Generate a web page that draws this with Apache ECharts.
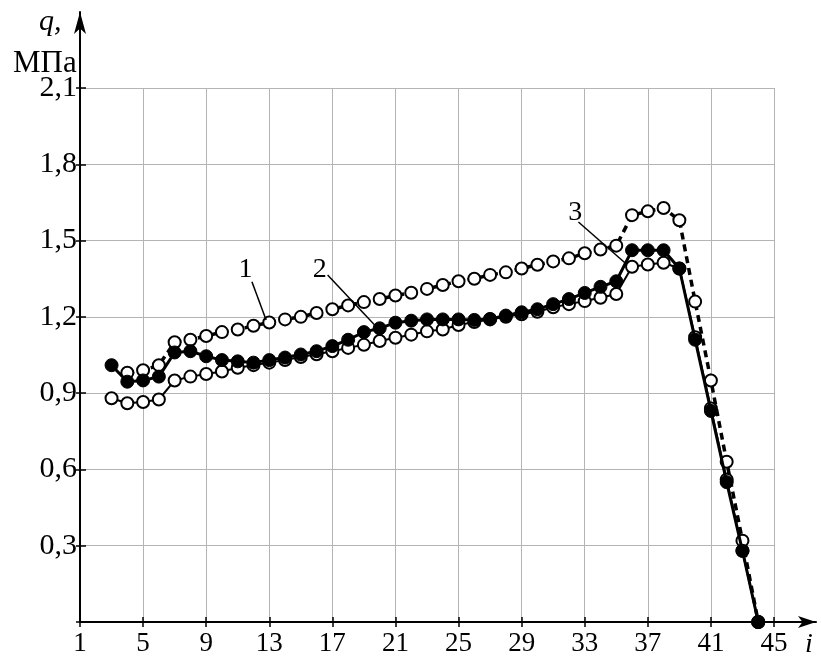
<!DOCTYPE html>
<html>
<head>
<meta charset="utf-8">
<script src="https://cdn.jsdelivr.net/npm/echarts@6/dist/echarts.min.js"></script>
<style>
html,body{margin:0;padding:0;background:#fff;}
#main{width:821px;height:658px;}
</style>
</head>
<body>
<div id="main"></div>
<script>
// categories (i)
const categories = ['1','2','3','4','5','6','7','8','9','10','11','12','13','14','15','16','17','18','19','20','21','22','23','24','25','26','27','28','29','30','31','32','33','34','35','36','37','38','39','40','41','42','43','44','45'];
// Curve 1 (dashed, open circles)
const q1 = [null,null,null,0.98,0.99,1.01,1.10,1.11,1.125,1.14,1.15,1.165,1.178,1.19,1.20,1.215,1.23,1.245,1.258,1.27,1.284,1.295,1.31,1.325,1.34,1.35,1.365,1.375,1.39,1.405,1.418,1.43,1.45,1.465,1.48,1.60,1.615,1.628,1.58,1.26,0.95,0.63,0.32,0,null];
// Curve 2 (thick solid, filled circles)
const q2 = [null,null,1.01,0.945,0.95,0.965,1.06,1.065,1.045,1.03,1.025,1.02,1.03,1.04,1.052,1.065,1.085,1.11,1.14,1.155,1.177,1.185,1.19,1.19,1.19,1.188,1.192,1.205,1.218,1.23,1.25,1.27,1.294,1.318,1.34,1.462,1.462,1.462,1.39,1.11,0.83,0.55,0.28,0,null];
// Curve 3 (thin solid, open circles)
const q3 = [null,null,0.88,0.86,0.865,0.875,0.95,0.965,0.975,0.985,1.0,1.01,1.02,1.03,1.042,1.053,1.065,1.078,1.09,1.105,1.118,1.13,1.143,1.15,1.168,1.18,1.19,1.2,1.21,1.22,1.238,1.25,1.262,1.275,1.29,1.397,1.406,1.413,1.39,1.12,0.84,0.56,0.28,0,null];
// y ticks
const yMin = 0, yMax = 2.1, yStep = 0.3;
// annotations: label text, label position (i, q), leader start and end (i, q)
const annoText = ['1','2','3'];
const annoLabelPos = [[11.5,1.384],[16.2,1.384],[32.4,1.608]];
const annoLineFrom = [[11.9,1.338],[16.7,1.365],[32.6,1.573]];
const annoLineTo = [[12.8,1.188],[19.8,1.16],[35.6,1.41]];

const FONT = 'Liberation Serif';
const chart = echarts.init(document.getElementById('main'), null, {renderer:'canvas'});
const fmtY = v => (Math.abs(v) < 1e-9 ? '' : v.toFixed(1).replace('.', ','));

const option = {
  animation:false,
  backgroundColor:'#fff',
  title:[
    {text:'q,', left:34, top:2, textStyle:{fontFamily:FONT, fontStyle:'italic', fontWeight:'normal', fontSize:30, color:'#000'}},
    {text:'МПа', left:8, top:43, textStyle:{fontFamily:FONT, fontWeight:'normal', fontSize:31, color:'#000'}},
    {text:'i', left:800, top:626, textStyle:{fontFamily:FONT, fontStyle:'italic', fontWeight:'normal', fontSize:28, color:'#000'}}
  ],
  grid:[
    {left:80, right:47, top:88, bottom:36, containLabel:false},
    {left:80, right:5, top:12, bottom:36, containLabel:false}
  ],
  xAxis:[
    {gridIndex:0, type:'category', data:categories, boundaryGap:false,
     axisLine:{show:false},
     axisTick:{show:true, interval:3, length:5, lineStyle:{color:'#000', width:1.5}},
     axisLabel:{interval:3, margin:8, fontFamily:FONT, fontSize:27, color:'#000'},
     splitLine:{show:true, interval:3, lineStyle:{color:'#b4b4b4', width:1}}},
    {gridIndex:0, type:'category', data:categories, boundaryGap:false, position:'bottom',
     axisLine:{show:false},
     axisTick:{show:true, inside:true, interval:3, length:5, lineStyle:{color:'#000', width:1.5}},
     axisLabel:{show:false}, splitLine:{show:false}},
    {gridIndex:1, type:'value', min:0, max:1,
     axisLine:{show:true, symbol:['none','arrow'], symbolSize:[9,18], lineStyle:{color:'#000', width:2}},
     axisTick:{show:false}, axisLabel:{show:false}, splitLine:{show:false}}
  ],
  yAxis:[
    {gridIndex:0, type:'value', min:yMin, max:yMax, interval:yStep,
     axisLine:{show:false},
     axisTick:{show:true, length:4, lineStyle:{color:'#000', width:1.5}},
     axisLabel:{margin:3, formatter:fmtY, fontFamily:FONT, fontSize:30, color:'#000'},
     splitLine:{show:true, lineStyle:{color:'#b4b4b4', width:1}}},
    {gridIndex:0, type:'value', min:yMin, max:yMax, interval:yStep, position:'left',
     axisLine:{show:false},
     axisTick:{show:true, inside:true, length:6, lineStyle:{color:'#000', width:1.5}},
     axisLabel:{show:false}, splitLine:{show:false}},
    {gridIndex:1, type:'value', min:0, max:1,
     axisLine:{show:true, symbol:['none','arrow'], symbolSize:[9,22], lineStyle:{color:'#000', width:2}},
     axisTick:{show:false}, axisLabel:{show:false}, splitLine:{show:false}}
  ],
  series:[
    {name:'3', type:'line', xAxisIndex:0, yAxisIndex:0, data:q3, symbol:'circle', symbolSize:12, showAllSymbol:true,
     lineStyle:{color:'#000', width:2}, itemStyle:{color:'#fff', borderColor:'#000', borderWidth:2}, z:2},
    {name:'1', type:'line', xAxisIndex:0, yAxisIndex:0, data:q1, symbol:'circle', symbolSize:12, showAllSymbol:true,
     lineStyle:{color:'#000', width:3.5, type:[7,5]}, itemStyle:{color:'#fff', borderColor:'#000', borderWidth:2}, z:3},
    {name:'2', type:'line', xAxisIndex:0, yAxisIndex:0, data:q2, symbol:'circle', symbolSize:13, showAllSymbol:true,
     lineStyle:{color:'#000', width:3}, itemStyle:{color:'#000', borderColor:'#000', borderWidth:1}, z:4}
  ]
};
chart.setOption(option);

// annotations positioned through the axes (linear interpolation on the category index)
function px(i, q){
  const x0 = chart.convertToPixel({xAxisIndex:0}, 0);
  const x1 = chart.convertToPixel({xAxisIndex:0}, categories.length - 1);
  const x = x0 + (i - 1) / (categories.length - 1) * (x1 - x0);
  const y = chart.convertToPixel({yAxisIndex:0}, q);
  return [x, y];
}
const graphics = [];
for (let k = 0; k < annoText.length; k++){
  const p = px(annoLabelPos[k][0], annoLabelPos[k][1]);
  const a = px(annoLineFrom[k][0], annoLineFrom[k][1]);
  const b = px(annoLineTo[k][0], annoLineTo[k][1]);
  graphics.push({type:'text', x:p[0], y:p[1], style:{text:annoText[k], fill:'#000', font:'28px "Liberation Serif"', textAlign:'center', textVerticalAlign:'middle'}, z:10});
  graphics.push({type:'line', shape:{x1:a[0], y1:a[1], x2:b[0], y2:b[1]}, style:{stroke:'#000', lineWidth:1.5}, z:10});
}
chart.setOption({graphic:graphics});
</script>
</body>
</html>
